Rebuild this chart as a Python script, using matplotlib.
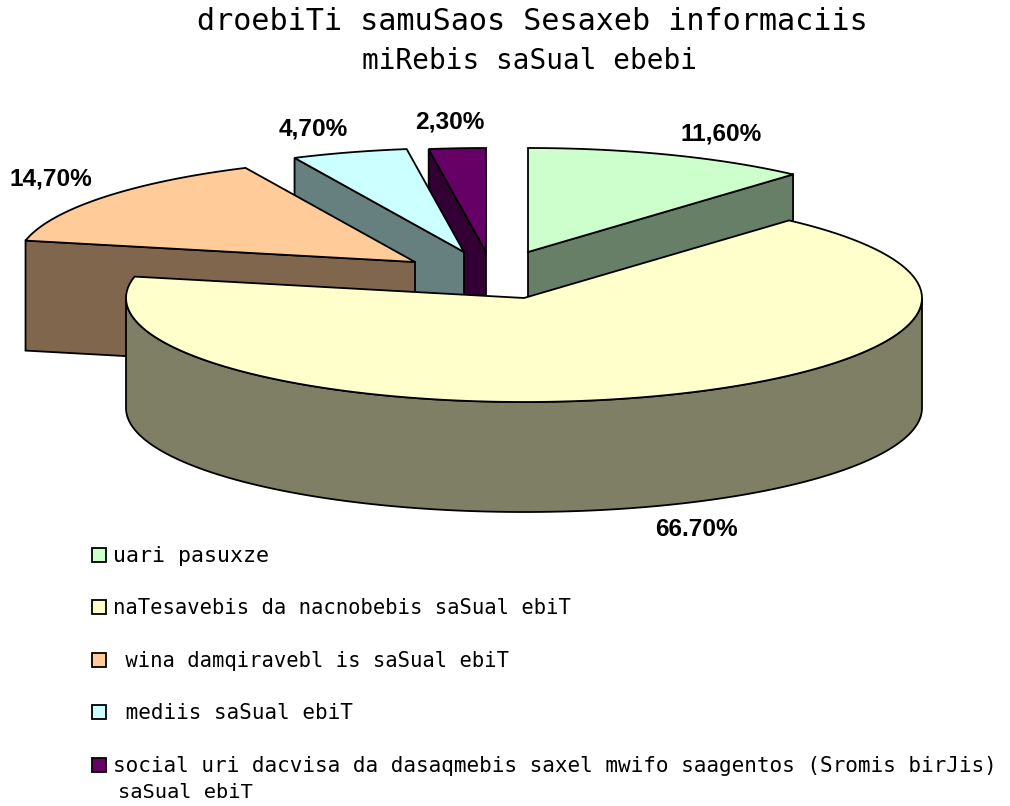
import matplotlib
matplotlib.use("Agg")
import matplotlib.pyplot as plt
import numpy as np
from matplotlib.patches import Polygon, Rectangle

# Slice data, clockwise from 12 o'clock
categories = ["uari pasuxze",
              "naTesavebis da nacnobebis saSual ebiT",
              " wina damqiravebl is saSual ebiT",
              " mediis saSual ebiT",
              "social uri dacvisa da dasaqmebis saxel mwifo saagentos (Sromis birJis)"]
values = [11.6, 66.7, 14.7, 4.7, 2.3]
value_labels = ["11,60%", "66.70%", "14,70%", "4,70%", "2,30%"]
colors = ["#CCFFCC", "#FFFFCC", "#FFCC99", "#CCFFFF", "#660066"]
side_colors = ["#667F66", "#7F7F66", "#7F664C", "#667F7F", "#330033"]

# apex of each exploded slice, in pixels
apex_x = [528, 524, 415, 464, 486]
apex_y = [252, 298, 262, 252, 252]
label_x = [721, 696, 51, 313, 450]
label_y = [134, 530, 179, 129, 122]
legend_y = [555, 607, 660, 712, 765]
legend_size = [15.6, 14.8, 14.8, 15, 15.15]

RX, RY, DEPTH = 398, 104, 110

fig = plt.figure(figsize=(10.1, 8.06), dpi=100)
ax = fig.add_axes([0, 0, 1, 1])
ax.set_xlim(0, 1010)
ax.set_ylim(806, 0)
ax.axis("off")


def arc(cx, cy, a0, a1):
    t = np.radians(np.linspace(a0, a1, 120))
    return cx + RX * np.sin(t), cy - RY * np.cos(t)


def face(xs, ys, color):
    ax.add_patch(Polygon(np.column_stack([xs, ys]), closed=True, fc=color, ec="black", lw=1.3))


ends = np.cumsum(values) * 3.6
starts = ends - np.array(values) * 3.6

# back to front: purple, cyan, peach, green, then the big slice on top
for i in [4, 3, 2, 0, 1]:
    cx, cy = apex_x[i], apex_y[i]
    x, y = arc(cx, cy, starts[i], ends[i])
    if i == 0:
        face([cx, x[-1], x[-1], cx], [cy, y[-1], y[-1] + DEPTH, cy + DEPTH], side_colors[i])
    elif i == 1:
        # only the front half of the rim shows
        xs, ys = arc(cx, cy, 90, 270)
        face(np.r_[xs, xs[::-1]], np.r_[ys, ys[::-1] + DEPTH], side_colors[i])
    else:
        face([cx, x[0], x[0], cx], [cy, y[0], y[0] + DEPTH, cy + DEPTH], side_colors[i])
    face(np.r_[cx, x], np.r_[cy, y], colors[i])

for i, lab in enumerate(value_labels):
    ax.text(label_x[i], label_y[i], lab, ha="center", va="center", fontsize=17.6,
            fontweight="bold", family="Liberation Sans", color="black")

mono = "DejaVu Sans Mono"
ax.text(532, 22, "droebiTi samuSaos Sesaxeb informaciis", ha="center", va="center",
        fontsize=21.7, family=mono, color="black")
ax.text(529, 61, "miRebis saSual ebebi", ha="center", va="center",
        fontsize=20, family=mono, color="black")

for i, name in enumerate(categories):
    ax.add_patch(Rectangle((92, legend_y[i] - 7), 14, 14, fc=colors[i], ec="black", lw=1.3))
    ax.text(113, legend_y[i] + 1, name, ha="left", va="center",
            fontsize=legend_size[i], family=mono, color="black")
ax.text(118, 793, "saSual ebiT", ha="left", va="center", fontsize=14.7, family=mono, color="black")

fig.savefig("out.png", dpi=100, facecolor="white")
